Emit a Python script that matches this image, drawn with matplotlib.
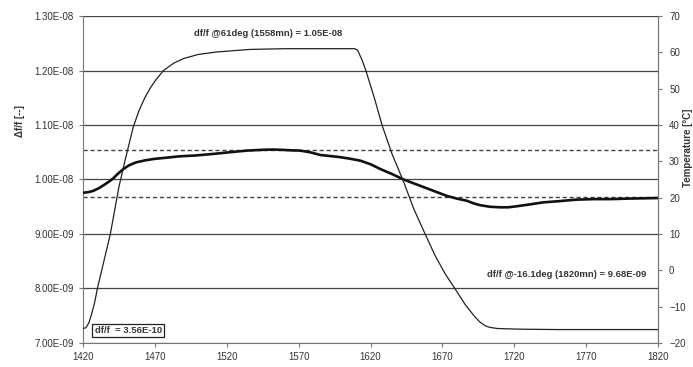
import matplotlib
matplotlib.use("Agg")
import matplotlib.pyplot as plt
from matplotlib.ticker import FuncFormatter, MultipleLocator

plt.rcParams['font.family'] = ['Liberation Sans', 'DejaVu Sans']

# Temperature (right axis)
temp_time = [1420, 1422, 1424, 1426, 1428, 1430, 1433, 1436, 1439, 1442, 1445, 1450, 1455,
             1459, 1463, 1467, 1471, 1476, 1483, 1490, 1500, 1513, 1536, 1560, 1590, 1609,
             1611, 1614, 1617, 1623, 1628, 1635, 1643, 1650, 1658, 1665, 1672, 1679, 1686,
             1692, 1696, 1700, 1703, 1708, 1715, 1725, 1750, 1780, 1820]
temp_vals = [-16.0, -15.8, -14.5, -12.0, -9.0, -5.0, 0.0, 5.0, 10.0, 16.5, 23.0, 31.5, 39.5,
             44.0, 47.5, 50.3, 52.6, 55.0, 57.0, 58.3, 59.4, 60.1, 60.8, 61.0, 61.0, 61.0,
             60.6, 58.0, 54.7, 47.0, 40.0, 32.0, 24.4, 17.0, 10.0, 4.0, -1.0, -5.2, -9.5,
             -12.5, -14.2, -15.3, -15.7, -16.0, -16.1, -16.2, -16.3, -16.3, -16.3]

# df/f (left axis), in units of 1e-9
dff_time = [1420, 1424, 1427, 1431, 1434, 1438, 1441, 1444, 1448, 1452, 1457, 1463, 1469,
            1478, 1487, 1498, 1510, 1522, 1534, 1545, 1552, 1558, 1565, 1571, 1578, 1585,
            1592, 1599, 1606, 1613, 1620, 1627, 1635, 1643, 1651, 1659, 1666, 1673, 1680,
            1687, 1692, 1696, 1703, 1710, 1716, 1722, 1730, 1740, 1750, 1763, 1775, 1787,
            1800, 1810, 1820]
dff_vals = [9.756, 9.77, 9.79, 9.84, 9.89, 9.96, 10.02, 10.10, 10.19, 10.26, 10.315, 10.35,
            10.376, 10.40, 10.425, 10.44, 10.468, 10.50, 10.53, 10.545, 10.55, 10.545,
            10.535, 10.53, 10.50, 10.45, 10.43, 10.41, 10.38, 10.345, 10.28, 10.19, 10.10,
            10.00, 9.92, 9.84, 9.77, 9.70, 9.65, 9.61, 9.56, 9.53, 9.50, 9.49, 9.49, 9.51,
            9.54, 9.58, 9.60, 9.63, 9.64, 9.64, 9.65, 9.655, 9.66]
dff_vals = [v * 1e-9 for v in dff_vals]

ref_high = 1.0536e-8
ref_low = 9.68e-9

x_ticks = [1420, 1470, 1520, 1570, 1620, 1670, 1720, 1770, 1820]
left_ticks = [7e-9, 8e-9, 9e-9, 1.0e-8, 1.1e-8, 1.2e-8, 1.3e-8]

text_col = '#333333'
fig = plt.figure(figsize=(6.93, 3.67), dpi=100)
ax = fig.add_axes([0.1198, 0.0654, 0.8297, 0.891])

ax.set_xlim(1420, 1820)
ax.set_ylim(7e-9, 1.3e-8)
ax.set_yticks(left_ticks)
ax.set_xticks(x_ticks)
ax.yaxis.set_major_formatter(FuncFormatter(lambda v, p: f"{v:.2E}"))
for yv in left_ticks:
    ax.axhline(yv, color='#444444', lw=0.9, zorder=1)
ax.axhline(ref_high, color='#444444', lw=1.0, ls=(0, (3, 2)), zorder=1)
ax.axhline(ref_low, color='#444444', lw=1.0, ls=(0, (3, 2)), zorder=1)
ax.plot(dff_time, dff_vals, color='#111111', lw=1.9, zorder=3)

ax.spines['top'].set_visible(False)
for s in ['left', 'right', 'bottom']:
    ax.spines[s].set_color('#777777')
    ax.spines[s].set_linewidth(0.8)
ax.tick_params(axis='both', colors='#777777', labelcolor=text_col, labelsize=7,
               length=3, width=0.8)
ax.set_ylabel('Δf/f [--]', fontsize=7, fontweight='bold', color=text_col)
ax.yaxis.set_label_coords(-0.101, 0.679)

ax2 = ax.twinx()
ax2.set_ylim(-20, 70)
ax2.yaxis.set_major_locator(MultipleLocator(10))
ax2.plot(temp_time, temp_vals, color='#222222', lw=0.9, zorder=2)
ax2.spines['top'].set_visible(False)
ax2.spines['right'].set_color('#777777')
ax2.spines['left'].set_visible(False)
ax2.spines['bottom'].set_visible(False)
ax2.tick_params(axis='y', colors='#777777', labelcolor=text_col, labelsize=7,
                length=3, width=0.8, pad=5)
ax2.set_ylabel('Temperature [°C]', fontsize=7, fontweight='bold', color=text_col,
               rotation=90)
ax2.yaxis.set_label_coords(1.0435, 0.596)

ax.text(1497, 1.2688e-8, 'df/f @61deg (1558mn) = 1.05E-08', fontsize=6.8,
        fontweight='bold', color=text_col, va='center', ha='left')
ax.text(1812, 8.266e-9, 'df/f @-16.1deg (1820mn) = 9.68E-09', fontsize=6.8,
        fontweight='bold', color=text_col, va='center', ha='right')
ax.text(1428, 7.23e-9, 'df/f  = 3.56E-10', fontsize=6.8, fontweight='bold', color=text_col,
        va='center', ha='left',
        bbox=dict(boxstyle='square,pad=0.25', fc='white', ec='#222222', lw=0.9))

fig.savefig('out.png', dpi=100)
